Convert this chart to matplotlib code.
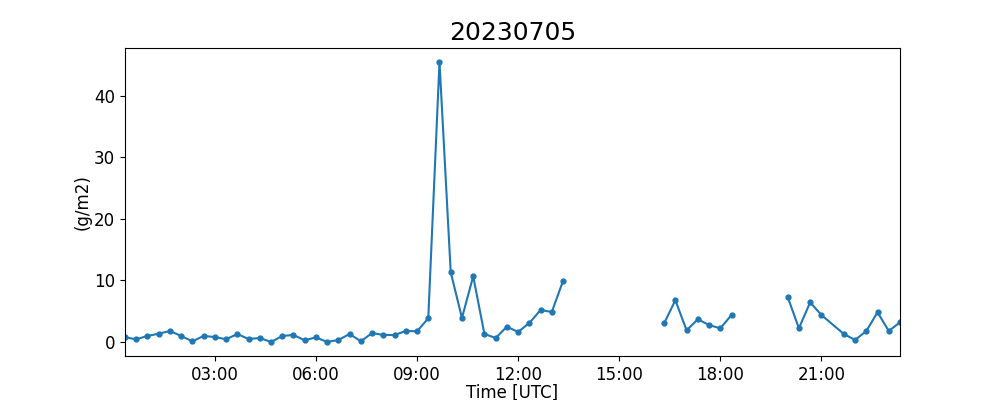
import matplotlib
matplotlib.use("Agg")
import matplotlib.pyplot as plt
import matplotlib.dates as mdates
import numpy as np
import pandas as pd

day = "2023-07-05"
times = ["00:20", "00:40", "01:00", "01:20", "01:40", "02:00", "02:20", "02:40",
         "03:00", "03:20", "03:40", "04:00", "04:20", "04:40", "05:00", "05:20",
         "05:40", "06:00", "06:20", "06:40", "07:00", "07:20", "07:40", "08:00",
         "08:20", "08:40", "09:00", "09:20", "09:40", "10:00", "10:20", "10:40",
         "11:00", "11:20", "11:40", "12:00", "12:20", "12:40", "13:00", "13:20",
         "13:40", "16:00",
         "16:20", "16:40", "17:00", "17:20", "17:40", "18:00", "18:20",
         "18:40", "19:40",
         "20:00", "20:20", "20:40", "21:00", "21:40", "22:00", "22:20", "22:40",
         "23:00", "23:20"]
values = [0.76, 0.44, 0.98, 1.35, 1.79, 0.98, 0.11, 0.98,
          0.81, 0.44, 1.30, 0.49, 0.65, 0.00, 0.98, 1.14,
          0.27, 0.76, 0.00, 0.33, 1.30, 0.11, 1.46, 1.14,
          1.14, 1.79, 1.74, 3.85, 45.5, 11.33, 3.90, 10.68,
          1.30, 0.65, 2.49, 1.63, 3.09, 5.20, 4.88, 9.92,
          np.nan, np.nan,
          3.04, 6.78, 1.90, 3.69, 2.76, 2.22, 4.39,
          np.nan, np.nan,
          7.32, 2.22, 6.45, 4.39, 1.30, 0.33, 1.79, 4.83,
          1.79, 3.20]

t = pd.to_datetime([day + " " + s for s in times])

# plot
fig, ax = plt.subplots(figsize=(10, 4), dpi=100)
ax.plot(t, values, '.-', color='tab:blue', linewidth=1.5, markersize=7)
ax.set_xlim(t[0], t[-1])
ax.xaxis.set_major_locator(mdates.HourLocator(byhour=range(0, 24, 3)))
ax.xaxis.set_major_formatter(mdates.DateFormatter('%H:%M'))
ax.tick_params(labelsize=12)
ax.set_xlabel('Time [UTC]', fontsize=12, labelpad=0)
ax.set_ylabel('(g/m2)', fontsize=12, labelpad=2)
ax.set_title('20230705', fontsize=18)
plt.savefig('out.png')
